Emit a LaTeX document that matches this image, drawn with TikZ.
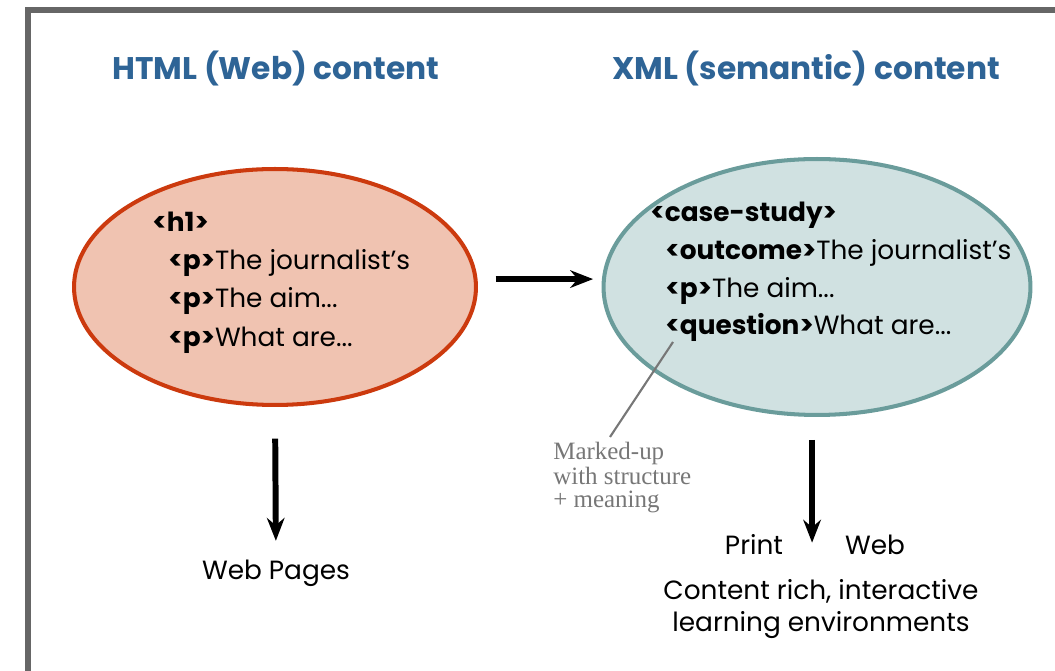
\documentclass[tikz,border=0pt]{standalone}
\usepackage{fontspec}
\setmainfont{Poppins}
\newfontfamily\notefont{Liberation Serif}
\usetikzlibrary{shapes.geometric,arrows.meta}

\definecolor{titleblue}{HTML}{2E6496}
\definecolor{htmlfill}{HTML}{F0C3B1}
\definecolor{htmldraw}{HTML}{CC3A0E}
\definecolor{xmlfill}{HTML}{D0E1E1}
\definecolor{xmldraw}{HTML}{6A9C9B}
\definecolor{framegray}{HTML}{666666}
\definecolor{notegray}{HTML}{777777}

\tikzset{
  heading/.style={font=\fontsize{17.8}{22}\selectfont\bfseries, text=titleblue},
  blob/.style={ellipse, line width=2.3pt, inner sep=0pt},
  codetext/.style={font=\fontsize{15}{19}\selectfont, anchor=base west, inner sep=0pt},
  outtext/.style={font=\fontsize{15}{19}\selectfont, anchor=base, inner sep=0pt},
  notetext/.style={font=\notefont\fontsize{14.2}{16}\selectfont, text=notegray, anchor=base west, inner sep=0pt},
  bigarrow/.style={-{Stealth[length=13pt, width=10pt]}, line width=3.4pt},
}

\begin{document}
\begin{tikzpicture}[x=0.02cm, y=-0.02cm]
    \useasboundingbox (0,0) rectangle (1055,671);
    % open frame round the whole figure
    \draw[framegray, line width=2.9pt] (28,700) -- (28,10) -- (1070,10);

    % Headings
    \node[heading] (htmltitle) at (276,68) {HTML (Web) content};
    \node[heading] (xmltitle) at (806,68) {XML (semantic) content};

    % The two blobs of content
    \node[blob, fill=htmlfill, draw=htmldraw, minimum width=8.04cm, minimum height=4.72cm] (html) at (275,287) {};
    \node[blob, fill=xmlfill, draw=xmldraw, minimum width=8.54cm, minimum height=5.12cm] (xml) at (817,287) {};

    % Markup inside the blobs
    \node[codetext] (h1) at (152,232) {\textbf{<h1>}};
    \node[codetext] (p1) at (168,270) {\textbf{<p>}The journalist’s};
    \node[codetext] (p2) at (168,308) {\textbf{<p>}The aim...};
    \node[codetext] (p3) at (168,347) {\textbf{<p>}What are...};

    \node[codetext] (case) at (650,222) {\textbf{<case-study>}};
    \node[codetext] (outcome) at (665,260) {\textbf{<outcome>}The journalist’s};
    \node[codetext] (xp) at (665,298) {\textbf{<p>}The aim...};
    \node[codetext] (question) at (665,335) {\textbf{<question>}What are...};

    % Outputs
    \node[outtext] (webpages) at (276,580) {Web Pages};
    \node[outtext] (print) at (754,555) {Print};
    \node[outtext] (web) at (875,555) {Web};
    \node[outtext] (rich1) at (821,600) {Content rich, interactive};
    \node[outtext] (rich2) at (821,632) {learning environments};

    % Note on the markup
    \node[notetext] (note1) at (553,460) {Marked-up};
    \node[notetext] (note2) at (553,485) {with structure};
    \node[notetext] (note3) at (553,508) {+ meaning};
    \coordinate (qtag) at (673,342);
    \coordinate (notetip) at (610,437);
    \draw[notegray, line width=1.2pt] (qtag) -- (notetip);

    % Arrows
    \draw[bigarrow, shorten <=10pt, shorten >=4.8pt] ([yshift=4.5pt]html.east) -- ([yshift=4.5pt]xml.west);
    \draw[bigarrow, shorten <=18pt, shorten >=11pt] (html.south) -- (webpages.north);
    \draw[bigarrow, shorten <=13pt, shorten >=21pt] ([xshift=-2.8pt]xml.south) -- ([xshift=-2.8pt]xml.south |- rich1.north);
\end{tikzpicture}
\end{document}
